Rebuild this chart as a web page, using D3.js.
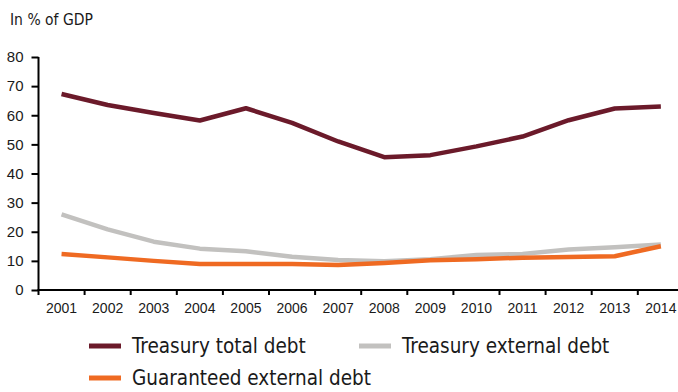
<!DOCTYPE html>
<html>
<head>
<meta charset="utf-8">
<script src="https://cdn.jsdelivr.net/npm/d3@7"></script>
<style>
  body { margin: 0; background: #fff; }
  svg { display: block; font-family: "DejaVu Sans Condensed", "DejaVu Sans", sans-serif; }
</style>
</head>
<body>
<div id="container"></div>
<script>
// data (% of GDP)
const years = ["2001","2002","2003","2004","2005","2006","2007","2008","2009","2010","2011","2012","2013","2014"];
const treasuryTotal    = [67.3, 63.5, 60.8, 58.2, 62.4, 57.4, 51.0, 45.6, 46.3, 49.3, 52.7, 58.3, 62.3, 63.0];
const treasuryExternal = [26.0, 20.8, 16.6, 14.2, 13.3, 11.4, 10.3, 9.9, 10.6, 12.0, 12.4, 13.9, 14.7, 15.6];
const guaranteedExt    = [12.4, 11.2, 10.0, 8.9, 8.9, 8.9, 8.6, 9.3, 10.2, 10.6, 11.1, 11.3, 11.6, 15.0];
const yTicks = [0, 10, 20, 30, 40, 50, 60, 70, 80];
const seriesNames = ["Treasury total debt", "Treasury external debt", "Guaranteed external debt"];
const seriesColors = ["#6b1a2a", "#c2c1bf", "#ef6a22"];

const w = 678, h = 392;
const padLeft = 38.5, padTop = 57, axisY = 290;

const svg = d3.select("#container").append("svg")
  .attr("width", w).attr("height", h);

// scales
const xScale = d3.scaleBand().domain(years).range([padLeft, padLeft + 14 * 46.1]);
const yScale = d3.scaleLinear().domain([0, 80]).range([axisY, padTop]);

// unit label
svg.append("text")
   .attr("x", 10).attr("y", 25)
   .style("font-size", "15.5px")
   .attr("fill", "#1a1a1a")
   .text("In % of GDP");

// y axis
const yAxis = d3.axisLeft(yScale).tickValues(yTicks).tickSize(7).tickPadding(8);
const gy = svg.append("g")
   .attr("transform", "translate(" + padLeft + ",0)")
   .call(yAxis);
gy.select(".domain").attr("stroke", "#000").attr("stroke-width", 2).attr("d", "M0," + padTop + "V" + axisY);
gy.selectAll(".tick line").attr("stroke", "#000").attr("stroke-width", 2);
gy.selectAll("text").style("font-size", "15px").attr("fill", "#1a1a1a");

// x axis: labels at band centres, ticks at band edges
const xAxis = d3.axisBottom(xScale).tickSize(0).tickPadding(13);
const gx = svg.append("g")
   .attr("transform", "translate(0," + axisY + ")")
   .call(xAxis);
gx.select(".domain").attr("stroke", "#000").attr("stroke-width", 2).attr("d", "M" + padLeft + ",0H" + w);
gx.selectAll("text").style("font-size", "14px").attr("fill", "#1a1a1a");
gx.selectAll(".edge")
   .data(years)
   .enter()
   .append("line")
   .attr("x1", d => xScale(d)).attr("x2", d => xScale(d))
   .attr("y1", -1).attr("y2", 5)
   .attr("stroke", "#000").attr("stroke-width", 2);

// lines
const line = d3.line()
  .x((d, i) => xScale(years[i]) + xScale.bandwidth() / 2)
  .y(d => yScale(d));

[treasuryTotal, treasuryExternal, guaranteedExt].forEach(function(s, i){
  svg.append("path")
     .datum(s)
     .attr("fill", "none")
     .attr("stroke", seriesColors[i])
     .attr("stroke-width", 4.5)
     .attr("stroke-linejoin", "round")
     .attr("d", line);
});

// legend
const legendPos = [[89, 346], [359, 346], [89, 378]];
seriesNames.forEach(function(name, i){
  const p = legendPos[i];
  svg.append("line")
     .attr("x1", p[0]).attr("x2", p[0] + 32)
     .attr("y1", p[1]).attr("y2", p[1])
     .attr("stroke", seriesColors[i]).attr("stroke-width", 5);
  svg.append("text")
     .attr("x", p[0] + 43).attr("y", p[1] + 7)
     .style("font-size", "20.5px")
     .attr("fill", "#1a1a1a")
     .text(name);
});
</script>
</body>
</html>
